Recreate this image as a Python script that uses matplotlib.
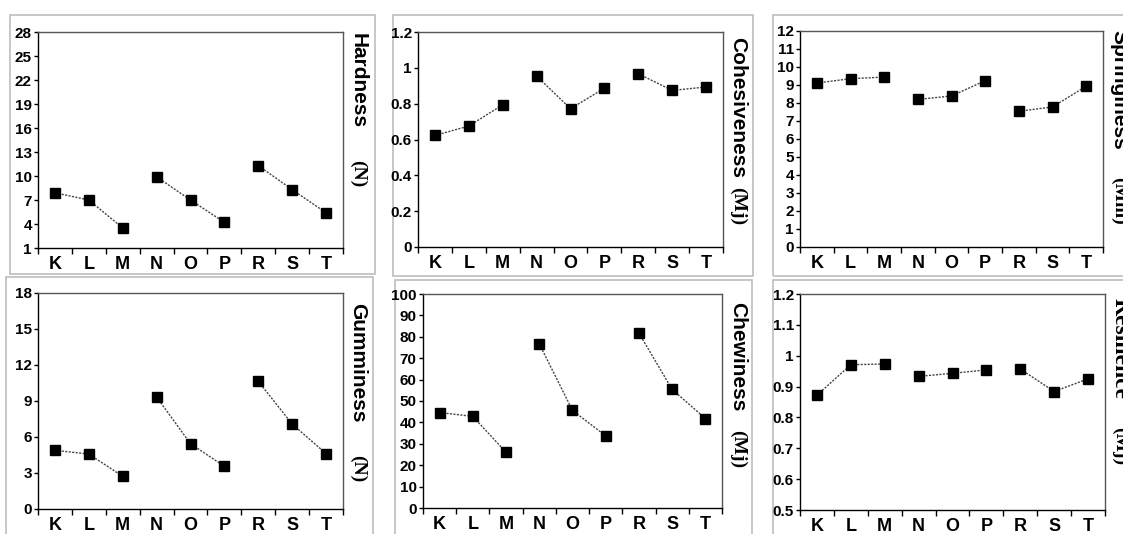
import matplotlib
matplotlib.use("Agg")
import matplotlib.pyplot as plt
from matplotlib.patches import Rectangle
from matplotlib.ticker import FuncFormatter

# ==============================
# Data
# ==============================
samples = ["K", "L", "M", "N", "O", "P", "R", "S", "T"]

hardness = [7.9, 7.0, 3.5, 9.9, 7.0, 4.2, 11.3, 8.3, 5.4]
cohesiveness = [0.623, 0.675, 0.794, 0.954, 0.772, 0.886, 0.967, 0.874, 0.893]
springiness = [9.11, 9.35, 9.44, 8.2, 8.39, 9.24, 7.54, 7.78, 8.93]
gumminess = [4.89, 4.58, 2.72, 9.33, 5.44, 3.56, 10.64, 7.08, 4.61]
chewiness = [44.6, 42.8, 26.0, 76.7, 45.6, 33.7, 81.7, 55.4, 41.8]
resilience = [0.872, 0.971, 0.973, 0.933, 0.943, 0.954, 0.957, 0.884, 0.925]

W, H = 1123, 534
SANS = ["Liberation Sans", "DejaVu Sans"]
SERIF = ["Liberation Serif", "DejaVu Serif"]

fig = plt.figure(figsize=(W / 100, H / 100), dpi=100)


def box(x0, y0, x1, y1):
    fig.patches.append(Rectangle((x0 / W, 1 - y1 / H), (x1 - x0) / W, (y1 - y0) / H,
                                 transform=fig.transFigure, fill=False,
                                 edgecolor="#bdbdbd", linewidth=1.2, zorder=-5))


def panel(rect, values, ylim, ystep, name, unit, lx, ly, uy,
          name_font=SANS, name_size=15):
    l, t, r, b = rect
    ax = fig.add_axes([l / W, 1 - b / H, (r - l) / W, (b - t) / H])
    x = list(range(len(samples)))
    for g in range(3):
        xs = x[g * 3:(g + 1) * 3]
        ys = values[g * 3:(g + 1) * 3]
        ax.plot(xs, ys, linestyle=(0, (1.5, 1)), color="#444444", linewidth=1.0,
                marker="s", markersize=6.5, markerfacecolor="black",
                markeredgecolor="black")
    ax.set_xlim(-0.5, len(samples) - 0.5)
    ax.set_ylim(*ylim)
    # boundary ticks between categories, labels centred
    ax.set_xticks([i - 0.5 for i in range(len(samples) + 1)])
    ax.set_xticklabels([])
    ax.set_xticks(x, minor=True)
    ax.set_xticklabels(samples, minor=True, fontsize=13, fontweight="bold", family=SANS)
    ax.tick_params(axis="x", which="major", direction="out", length=4, width=1)
    ax.tick_params(axis="x", which="minor", length=0, pad=6)
    yt = []
    v = ylim[0]
    while v <= ylim[1] + 1e-9:
        yt.append(round(v, 4))
        v += ystep
    ax.set_yticks(yt)
    ax.yaxis.set_major_formatter(FuncFormatter(lambda v, p: f"{v:g}"))
    ax.tick_params(axis="y", direction="out", length=3, width=1, pad=1.5)
    for lab in ax.get_yticklabels():
        lab.set_fontweight("bold")
        lab.set_fontsize(11)
        lab.set_family(SANS)
    for s in ax.spines.values():
        s.set_color("#555555")
        s.set_linewidth(1.0)
    ax.spines["left"].set_color("black")
    ax.spines["bottom"].set_color("black")

    fig.text(lx / W, 1 - ly / H, name, rotation=-90, ha="center", va="top",
             fontsize=name_size, fontweight="bold", family=name_font)
    fig.text(lx / W, 1 - uy / H, unit, rotation=-90, ha="center", va="top",
             fontsize=14, fontweight="bold", family=SERIF)
    return ax


# ==============================
# Boxes
# ==============================
box(10, 15, 375, 274)
box(393, 15, 753, 276)
box(773, 15, 1140, 276)
box(6, 277, 373, 560)
box(395, 280, 752, 560)
box(773, 280, 1140, 560)

# ==============================
# Panels
# ==============================
panel((38, 32, 343, 248), hardness, (1, 28), 3, "Hardness", "(N)", 358, 33, 160)
panel((418, 32, 723, 247), cohesiveness, (0, 1.2), 0.2, "Cohesiveness", "(Mj)", 738, 37, 187)
panel((800, 31, 1103, 247), springiness, (0, 12), 1, "Springiness", "(Mm)", 1119, 30, 177)
panel((38, 293, 343, 509), gumminess, (0, 18), 3, "Gumminess", "(N)", 358, 303, 455)
panel((423, 294, 722, 508), chewiness, (0, 100), 10, "Chewiness", "(Mj)", 738, 302, 430)
panel((800, 294, 1105, 510), resilience, (0.5, 1.2), 0.1, "Resilience", "(Mj)", 1120, 298, 427,
      name_font=SERIF, name_size=17)

fig.savefig("out.png", dpi=100)
